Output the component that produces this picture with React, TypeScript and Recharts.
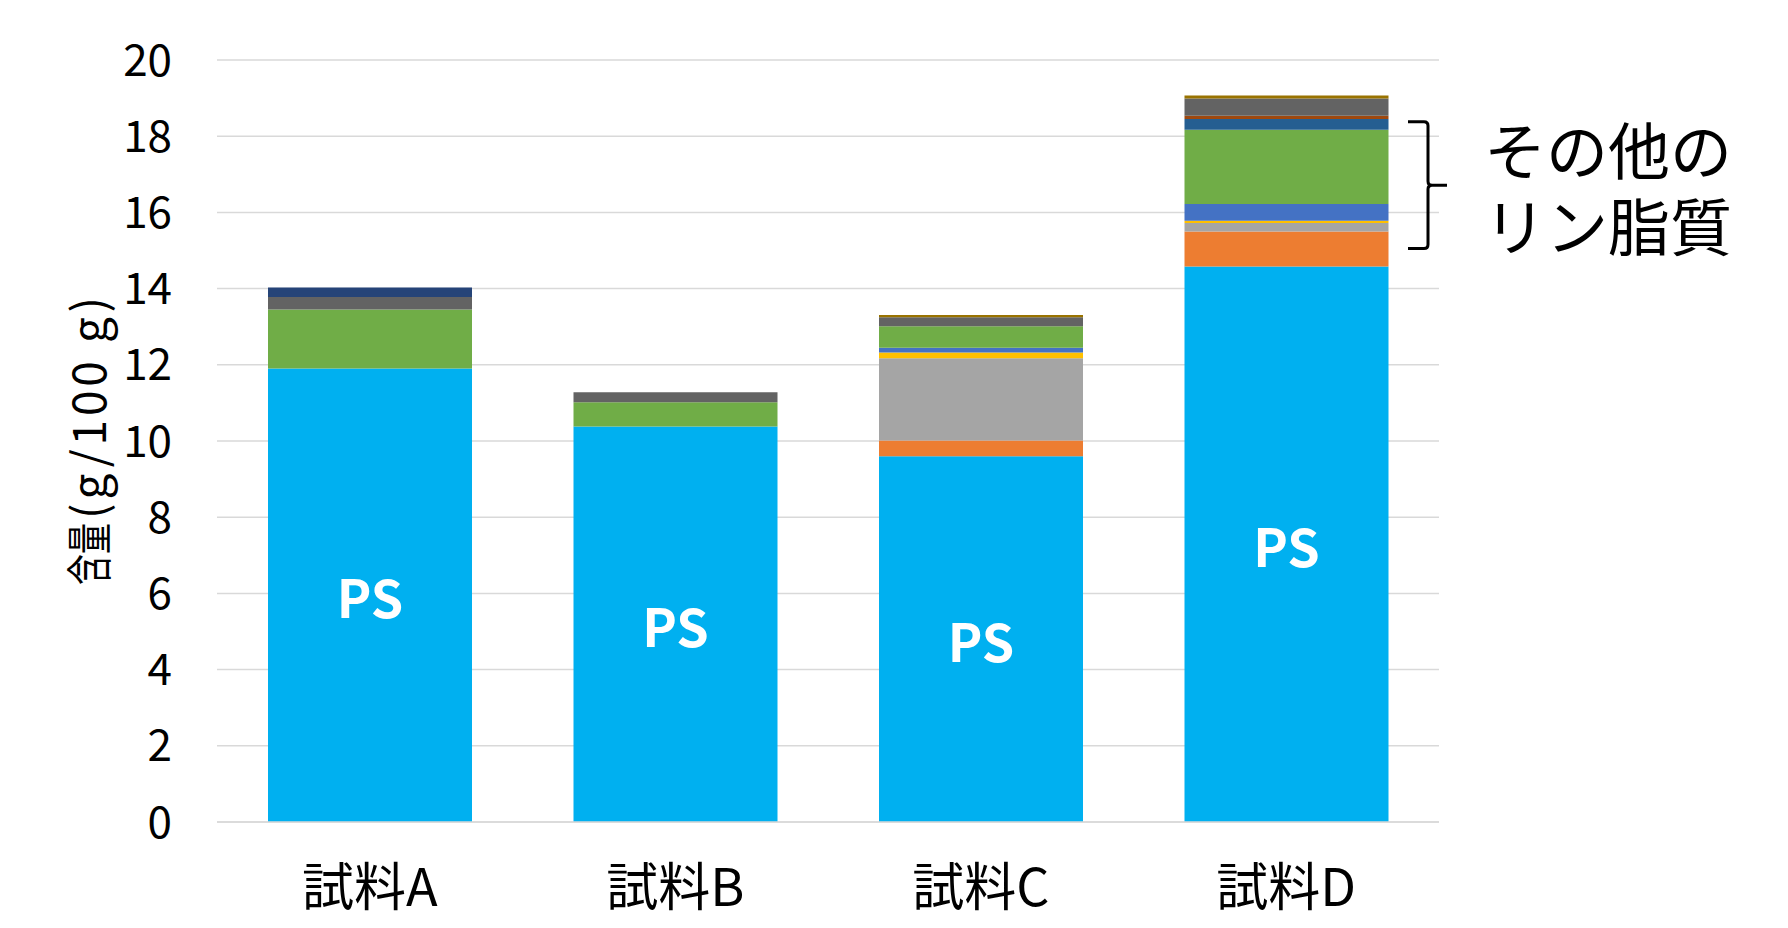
import { BarChart, Bar, XAxis, YAxis, CartesianGrid, LabelList, ReferenceArea } from 'recharts'

// 試料ごとのリン脂質含量 (g/100 g)
const samples = ['試料A', '試料B', '試料C', '試料D']

// 積み上げ順（下から）
const ps = [11.9, 10.38, 9.6, 14.58]
const lipid2 = [0, 0, 0.41, 0.92]
const lipid3 = [0, 0, 2.16, 0.22]
const lipid4 = [0, 0, 0.15, 0.06]
const lipid5 = [0, 0, 0.13, 0.44]
const lipid6 = [1.55, 0.64, 0.56, 1.95]
const lipid7 = [0, 0, 0, 0.28]
const lipid8 = [0, 0, 0, 0.09]
const lipid9 = [0.33, 0.26, 0.24, 0.45]
const lipid10 = [0, 0, 0.06, 0.08]
const lipid11 = [0.25, 0, 0, 0]

const yTicks = [0, 2, 4, 6, 8, 10, 12, 14, 16, 18, 20]

const series = [
  { key: 'PS', values: ps, color: '#00B0F0' },
  { key: 'l2', values: lipid2, color: '#ED7D31' },
  { key: 'l3', values: lipid3, color: '#A5A5A5' },
  { key: 'l4', values: lipid4, color: '#FFC000' },
  { key: 'l5', values: lipid5, color: '#4472C4' },
  { key: 'l6', values: lipid6, color: '#70AD47' },
  { key: 'l7', values: lipid7, color: '#255E91' },
  { key: 'l8', values: lipid8, color: '#9E480E' },
  { key: 'l9', values: lipid9, color: '#636363' },
  { key: 'l10', values: lipid10, color: '#997300' },
  { key: 'l11', values: lipid11, color: '#264478' },
]

const data = samples.map((name, i) => {
  const row: Record<string, string | number> = { name }
  series.forEach(s => { row[s.key] = s.values[i] })
  return row
})

const FONT = '"Noto Sans CJK JP", "Noto Sans", sans-serif'

// 縦書きの軸ラベル（漢字部分は元図のように少し詰める）
const YLabel = ({ viewBox }: any) => {
  const cx = viewBox.x + 58
  const cy = viewBox.y + viewBox.height / 2
  return (
    <g transform={`translate(${cx} ${cy}) rotate(-90)`}>
      <text
        x={-144}
        y={0}
        dominantBaseline="central"
        fontSize={46}
        fontFamily={FONT}
        fill="#000"
        textLength={62}
        lengthAdjust="spacingAndGlyphs"
      >
        含量
      </text>
      <text
        x={-78}
        y={0}
        dominantBaseline="central"
        fontSize={46}
        fontFamily={FONT}
        fill="#000"
        textLength={222}
        lengthAdjust="spacing"
      >
        (g/100 g)
      </text>
    </g>
  )
}

const PsLabel = (props: any) => {
  const { x, y, width, height } = props
  return (
    <text
      x={x + width / 2}
      y={y + height / 2}
      textAnchor="middle"
      dominantBaseline="central"
      fill="#fff"
      fontSize={52}
      fontWeight={700}
      fontFamily={FONT}
    >
      PS
    </text>
  )
}

// 「その他のリン脂質」の括弧と注記
const Bracket = (props: any) => {
  const { x, y, width, height } = props
  const r = x + width
  const mid = y + height / 2
  const vx = r - 11
  const d = `M ${r - 31} ${y} L ${vx - 4} ${y} Q ${vx} ${y} ${vx} ${y + 4} L ${vx} ${mid - 4} Q ${vx} ${mid} ${vx + 4} ${mid} L ${r + 8} ${mid} M ${vx + 4} ${mid} Q ${vx} ${mid} ${vx} ${mid + 4} L ${vx} ${y + height - 4} Q ${vx} ${y + height} ${vx - 4} ${y + height} L ${r - 31} ${y + height}`
  return (
    <g>
      <path d={d} fill="none" stroke="#000" strokeWidth={3} />
      <text x={r + 45} y={mid - 37} dominantBaseline="central" fontSize={62} fontFamily={FONT} fill="#000">
        その他の
      </text>
      <text x={r + 45} y={mid + 39} dominantBaseline="central" fontSize={62} fontFamily={FONT} fill="#000">
        リン脂質
      </text>
    </g>
  )
}

export default function App() {
  return (
    <div style={{ width: 1772, height: 912, background: '#fff' }}>
      <BarChart
        width={1772}
        height={912}
        data={data}
        margin={{ top: 52, right: 341, left: 20, bottom: 68 }}
      >
        <CartesianGrid vertical={false} stroke="#d9d9d9" strokeWidth={1.5} />
        <XAxis
          dataKey="name"
          tickLine={false}
          axisLine={{ stroke: '#d9d9d9', strokeWidth: 1.5 }}
          tickSize={0}
          tickMargin={47}
          tick={{ fontSize: 52, fill: '#000', fontFamily: FONT }}
        />
        <YAxis
          width={189}
          domain={[0, 20]}
          ticks={yTicks}
          interval={0}
          tickLine={false}
          axisLine={false}
          tickSize={0}
          tickMargin={45}
          tick={{ fontSize: 44, fill: '#000', fontFamily: FONT }}
          label={{ content: YLabel }}
        />
        {series.map(s => (
          <Bar
            key={s.key}
            dataKey={s.key}
            stackId="a"
            fill={s.color}
            barSize={204}
            isAnimationActive={false}
          >
            {s.key === 'PS' && <LabelList dataKey="PS" content={PsLabel} />}
          </Bar>
        ))}
        <ReferenceArea
          x1="試料D"
          x2="試料D"
          y1={15.05}
          y2={18.38}
          ifOverflow="visible"
          shape={Bracket}
        />
      </BarChart>
    </div>
  )
}
